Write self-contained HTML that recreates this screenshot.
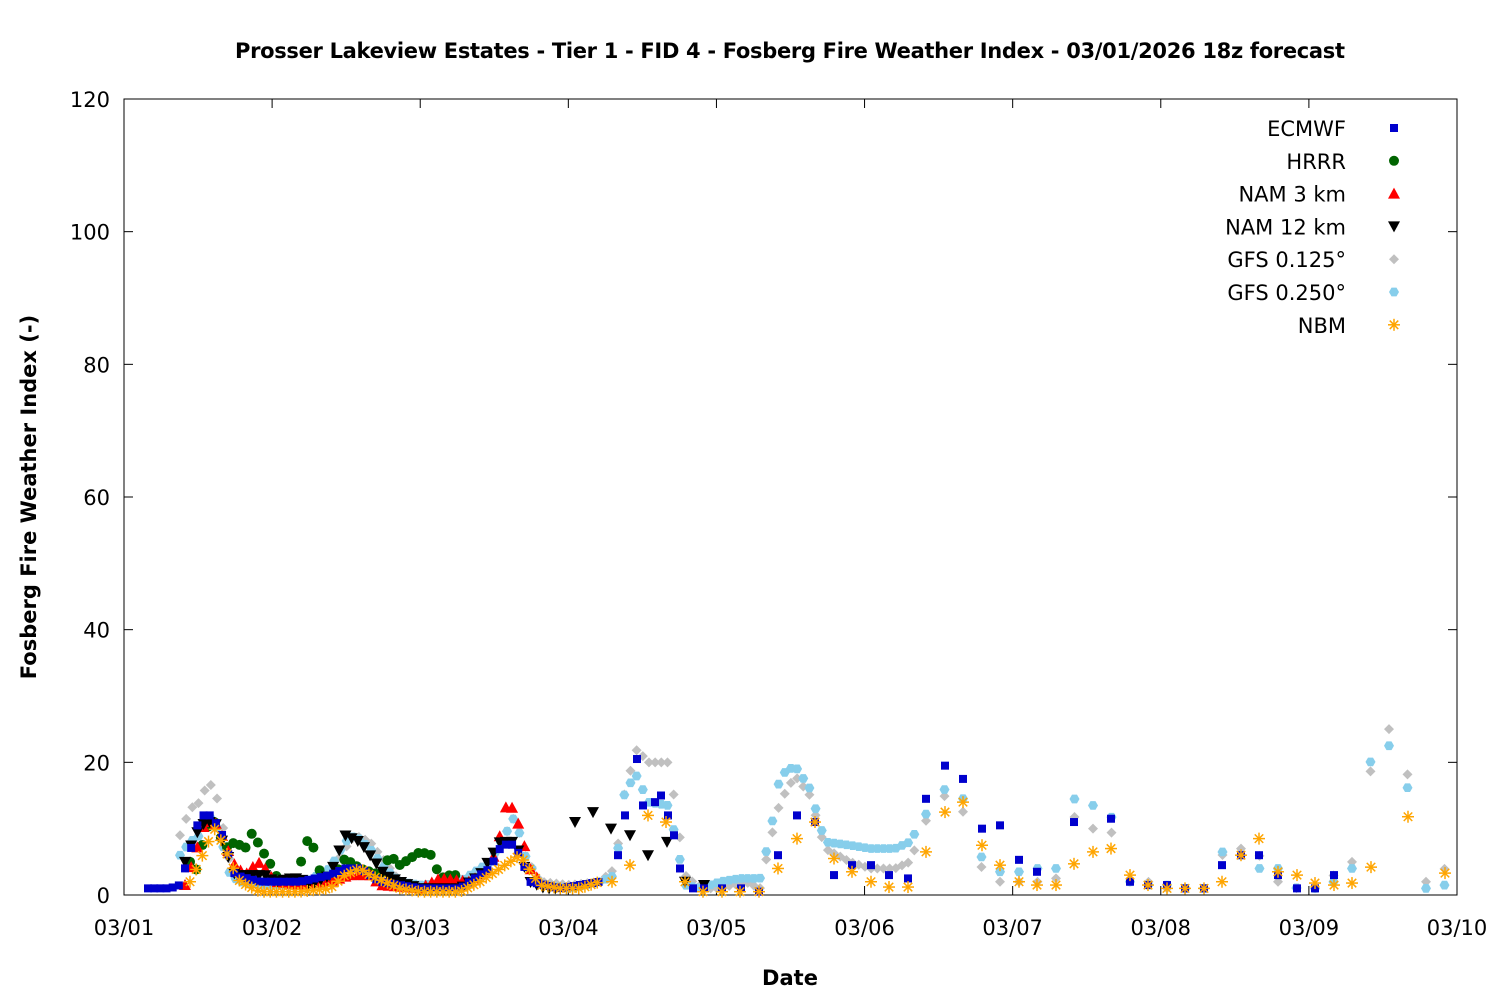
<!DOCTYPE html>
<html><head><meta charset="utf-8"><style>
html,body{margin:0;padding:0;background:#fff}
svg text{font-family:"DejaVu Sans","Liberation Sans",sans-serif}
</style></head><body>
<svg id="s" width="1500" height="1000" xmlns="http://www.w3.org/2000/svg">
<rect width="1500" height="1000" fill="#fff"/>
<text x="790" y="58" text-anchor="middle" font-size="21" font-weight="bold" textLength="1110">Prosser Lakeview Estates - Tier 1 - FID 4 - Fosberg Fire Weather Index - 03/01/2026 18z forecast</text>
<text x="790" y="985" text-anchor="middle" font-size="21" font-weight="bold">Date</text>
<text transform="translate(36,497) rotate(-90)" text-anchor="middle" font-size="21" font-weight="bold">Fosberg Fire Weather Index (-)</text>
<g id="ax"></g>
<g id="pts"></g>
<g id="leg" font-size="21" text-anchor="end"></g>
</svg>
<script>
const NS="http://www.w3.org/2000/svg";
const X0=124,X1=1457,Y0=895,Y1=99,PY=(Y0-Y1)/120;
const ax=document.getElementById('ax'),pts=document.getElementById('pts'),leg=document.getElementById('leg');
function el(p,t,a,txt){const e=document.createElementNS(NS,t);for(const k in a)e.setAttribute(k,a[k]);if(txt!==undefined)e.textContent=txt;p.appendChild(e);return e;}
el(ax,'rect',{x:X0,y:Y1,width:X1-X0,height:Y0-Y1,fill:'none',stroke:'#000','stroke-width':1});
for(let v=0;v<=120;v+=20){const y=Y0-v*PY;el(ax,'line',{x1:X0,x2:X0+9,y1:y,y2:y,stroke:'#000'});el(ax,'line',{x1:X1,x2:X1-9,y1:y,y2:y,stroke:'#000'});
el(ax,'text',{x:110,y:y+8,'text-anchor':'end','font-size':21},String(v));}
const days=["03/01","03/02","03/03","03/04","03/05","03/06","03/07","03/08","03/09","03/10"];
days.forEach((d,i)=>{const x=X0+i*(X1-X0)/9;el(ax,'line',{x1:x,x2:x,y1:Y0,y2:Y0-9,stroke:'#000'});el(ax,'line',{x1:x,x2:x,y1:Y1,y2:Y1+9,stroke:'#000'});
el(ax,'text',{x:x,y:935,'text-anchor':'middle','font-size':21},d);});
function marker(g,type,x,y,c){
 if(type=='sq')el(g,'rect',{x:x-4,y:y-4,width:8,height:8,fill:c});
 else if(type=='ci')el(g,'circle',{cx:x,cy:y,r:5,fill:c});
 else if(type=='up')el(g,'polygon',{points:`${x},${y-6} ${x+6},${y+5} ${x-6},${y+5}`,fill:c});
 else if(type=='dn')el(g,'polygon',{points:`${x},${y+6} ${x+6},${y-5} ${x-6},${y-5}`,fill:c});
 else if(type=='di')el(g,'polygon',{points:`${x},${y-5} ${x+5},${y} ${x},${y+5} ${x-5},${y}`,fill:c});
 else if(type=='pe'){let p='';for(let i=0;i<6;i++){const a=Math.PI/3*i;p+=`${x+5*Math.cos(a)},${y+5*Math.sin(a)} `;}el(g,'polygon',{points:p,fill:c});}
 else if(type=='st'){for(let i=0;i<4;i++){const a=Math.PI/4*i;el(g,'line',{x1:x-6*Math.cos(a),y1:y-6*Math.sin(a),x2:x+6*Math.cos(a),y2:y+6*Math.sin(a),stroke:c,'stroke-width':1.5});}}
}
function interp(k,x){for(let i=0;i<k.length-1;i++){if(x>=k[i][0]&&x<=k[i+1][0]){const t=(x-k[i][0])/(k[i+1][0]-k[i][0]);return k[i][1]+t*(k[i+1][1]-k[i][1]);}}return null;}
function series(type,c,k,segs){
 segs.forEach(s=>{for(let x=s[0];x<=s[1]+0.01;x+=s[2]){const v=interp(k,x);if(v!==null)marker(pts,type,x,Y0-v*PY,c);}});
}
function explicit(type,c,k){k.forEach(p=>marker(pts,type,p[0],Y0-p[1]*PY,c));}
const H=148.1/24;
const g125=[[180,9],[190,13],[200,14],[208,17],[215,16],[222,11],[230,5],[240,3],[260,2],[300,1.5],[330,3],[345,7],[355,9],[370,8],[385,5],[400,2],[420,1],[460,1],[490,5],[505,9],[515,12],[525,6],[540,2],[570,1.5],[600,2],[615,4],[625,16],[637,22],[648,20],[668,20],[675,14],[685,3],[700,1],[720,1],[745,2],[760,1],[770,8],[780,14],[795,18],[810,15],[825,7],[850,5],[870,4],[895,4],[910,5],[925,11],[945,15],[962,13],[982,4],[1000,2],[1020,2],[1037,2],[1055,2],[1075,12],[1092,10],[1110,10],[1130,2],[1148,2],[1167,1],[1185,1],[1204,1],[1222,6],[1241,7],[1259,6],[1278,2],[1297,1],[1315,1],[1334,3],[1352,5],[1371,19],[1389,25],[1408,18],[1426,2],[1445,4]];
series('di','#c0c0c0',g125,[[180,920,H],[926,1000,18.5],[1019,1445,18.5]]);
const g250=[[180,6],[190,8],[200,9],[208,12],[215,11],[222,8],[230,3],[240,2],[260,1.5],[300,1.5],[330,4],[345,8],[355,9],[370,7],[385,4],[400,2],[420,1.5],[460,2],[490,5],[505,9],[515,12],[525,6],[540,1.5],[570,1],[600,2],[615,3],[625,16],[637,18],[648,14],[668,13.5],[675,9],[685,1.5],[700,1],[720,2],[740,2.5],[760,2.5],[770,9],[780,18],[795,19.5],[810,16],[825,8],[850,7.5],[870,7],[895,7],[910,8],[925,12],[945,16],[962,15],[982,5.5],[1000,3.5],[1019,3.5],[1037,4],[1056,4],[1074,14.5],[1093,13.5],[1111,12],[1130,2],[1148,1.5],[1167,1.5],[1185,1],[1204,1],[1222,6.5],[1241,6],[1259,4],[1278,4],[1297,1],[1315,1],[1334,2],[1352,4],[1371,20.5],[1389,22.5],[1408,16],[1426,1],[1445,1.5]];
series('pe','#87ceeb',g250,[[180,920,H],[926,1000,18.5],[1019,1445,18.5]]);
const hrrr=[[190,5],[198,3.5],[205,10],[215,11],[225,7],[235,8],[240,7.5],[248,7],[253,10],[260,7],[268,5.5],[275,3],[285,2],[295,2],[303,6],[310,9.5],[318,4],[330,2],[345,5.5],[360,4],[380,3],[390,6],[400,4.5],[410,5.5],[420,6.5],[432,6],[440,2.5],[450,3],[460,3]];
series('ci','#006400',hrrr,[[190,460,H]]);
const nam3=[[185,1.5],[193,5],[205,11],[215,11],[225,8],[232,5],[245,3],[258,5],[265,4],[275,2],[300,1.5],[330,2],[350,3],[370,3],[380,1.5],[420,1],[440,2.5],[470,2],[490,4],[500,9],[507,14],[513,13],[520,10],[530,4],[540,2]];
series('up','#ff0000',nam3,[[185,540,H]]);
const nam12=[[185,5],[195,9],[205,11],[215,11],[225,7],[235,3],[250,3],[265,3],[275,2],[290,2.5],[300,2.5],[310,1.5],[330,3],[345,9],[360,8],[375,5],[385,3],[400,2],[420,1],[440,1],[460,1],[480,3],[500,8],[515,8],[530,2],[545,1],[560,1]];
series('dn','#000',nam12,[[185,560,H]]);
explicit('dn','#000',[[575,11],[593,12.5],[611,10],[630,9],[648,6],[667,8],[685,2],[704,1.5]]);
const ec=[[148,1],[170,1],[180,1.5],[193,8],[200,12],[210,12],[220,10],[235,3],[260,2],[300,2],[330,3],[345,4],[360,4],[380,2],[420,1],[460,1],[490,4],[500,7],[510,8],[520,6],[530,2],[560,1],[600,2]];
series('sq','#0000cd',ec,[[148,600,H]]);
explicit('sq','#0000cd',[[618,6],[625,12],[637,20.5],[643,13.5],[655,14],[661,15],[668,12],[674,9],[680,4],[693,1],[704,1],[722,1],[741,1],[759,0.5],[778,6],[797,12],[815,11],[834,3],[852,4.5],[871,4.5],[889,3],[908,2.5],[926,14.5],[945,19.5],[963,17.5],[982,10],[1000,10.5],[1019,5.3],[1037,3.5],[1074,11],[1111,11.5],[1130,2],[1148,1.5],[1167,1.5],[1185,1],[1204,1],[1222,4.5],[1241,6],[1259,6],[1278,3],[1297,1],[1315,1],[1334,3]]);
const nbm=[[190,2],[200,5],[205,7],[215,10],[225,7],[230,5],[240,2],[260,0.5],[300,0.5],[330,1],[345,3],[360,4],[370,3],[400,1],[420,0.5],[460,0.5],[480,2],[500,4],[520,6],[540,1.5],[560,1],[580,1],[600,2]];
series('st','#ffa500',nbm,[[190,600,H]]);
explicit('st','#ffa500',[[612,2],[630,4.5],[648,12],[666,11],[685,2],[703,0.5],[722,0.5],[740,0.5],[759,0.5],[778,4],[797,8.5],[815,11],[834,5.5],[852,3.5],[871,2],[889,1.2],[908,1.2],[926,6.5],[945,12.5],[963,14],[982,7.5],[1000,4.5],[1019,2],[1037,1.5],[1056,1.5],[1074,4.7],[1093,6.5],[1111,7],[1130,3],[1148,1.5],[1167,1],[1185,1],[1204,1],[1222,2],[1241,6],[1259,8.5],[1278,3.5],[1297,3],[1315,1.8],[1334,1.5],[1352,1.8],[1371,4.2],[1408,11.8],[1445,3.3]]);
const L=[["ECMWF",'sq','#0000cd'],["HRRR",'ci','#006400'],["NAM 3 km",'up','#ff0000'],["NAM 12 km",'dn','#000'],["GFS 0.125°",'di','#c0c0c0'],["GFS 0.250°",'pe','#87ceeb'],["NBM",'st','#ffa500']];
L.forEach((l,i)=>{const y=128+i*32.8;el(leg,'text',{x:1346,y:y+8},l[0]);marker(leg,l[1],1394,y,l[2]);});
</script>
</body></html>
